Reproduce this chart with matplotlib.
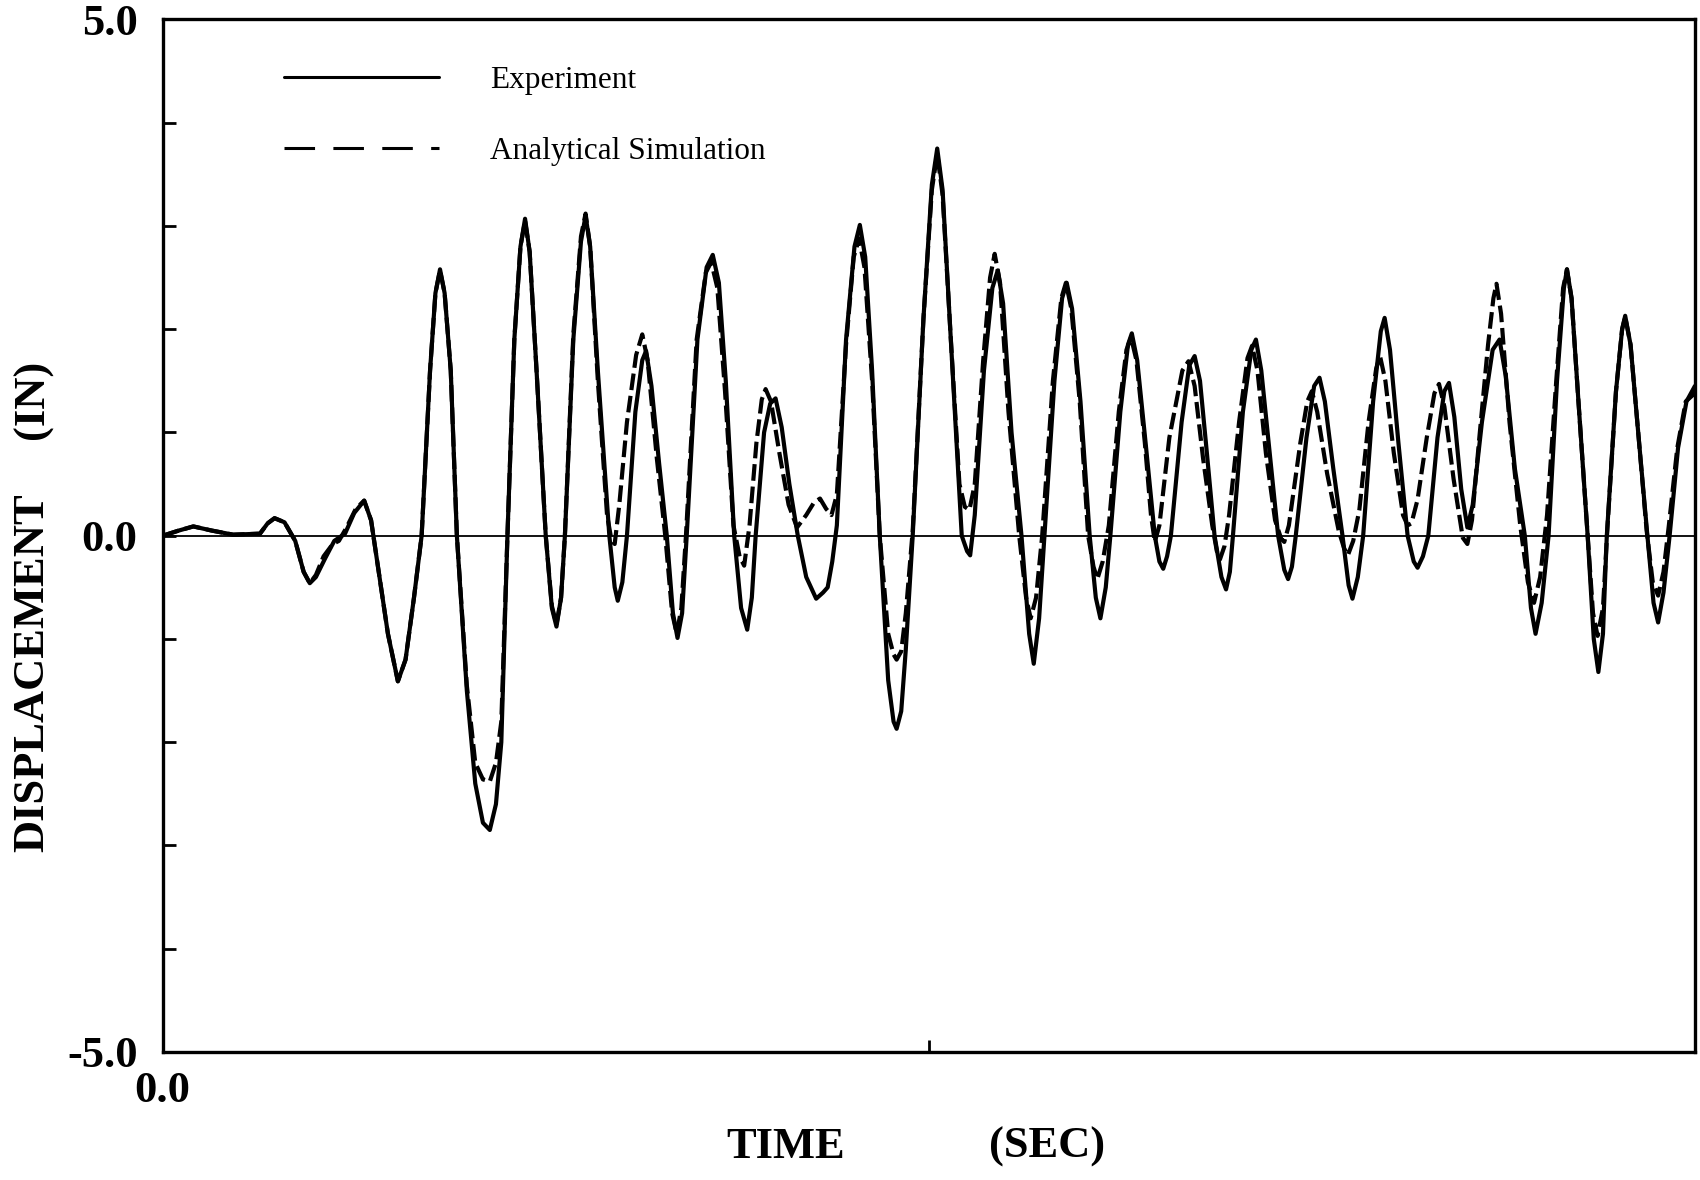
import matplotlib
matplotlib.use("Agg")
import matplotlib.pyplot as plt
import numpy as np

# Displacement history (time in sec, displacement in inches)
t_exp = [0.00, 0.21, 0.40, 0.64, 0.92, 1.27, 1.37, 1.46, 1.59, 1.73, 1.84, 1.92, 2.00, 2.12, 2.24,
         2.38, 2.50, 2.63, 2.72, 2.80, 2.94, 3.07, 3.17, 3.28, 3.38, 3.49, 3.56, 3.62, 3.68, 3.76,
         3.84, 3.97, 4.08, 4.18, 4.27, 4.35, 4.42, 4.50, 4.59, 4.67, 4.73, 4.79, 4.88, 5.00, 5.08,
         5.14, 5.20, 5.25, 5.36, 5.46, 5.52, 5.58, 5.68, 5.83, 5.90, 5.94, 6.00, 6.06, 6.17, 6.26,
         6.31, 6.38, 6.48, 6.58, 6.66, 6.72, 6.78, 6.84, 6.98, 7.10, 7.18, 7.26, 7.35, 7.46, 7.55,
         7.63, 7.69, 7.74, 7.85, 7.93, 8.00, 8.08, 8.18, 8.29, 8.40, 8.53, 8.62, 8.68, 8.74, 8.80,
         8.92, 9.03, 9.10, 9.17, 9.26, 9.36, 9.47, 9.54, 9.58, 9.64, 9.70, 9.79, 9.93, 10.04, 10.11,
         10.18, 10.28, 10.43, 10.50, 10.54, 10.60, 10.72, 10.83, 10.90, 10.97, 11.08, 11.21, 11.31,
         11.37, 11.44, 11.51, 11.64, 11.74, 11.80, 11.87, 11.98, 12.10, 12.18, 12.24, 12.31, 12.37,
         12.50, 12.60, 12.65, 12.72, 12.83, 12.95, 13.01, 13.06, 13.11, 13.16, 13.30, 13.40, 13.47,
         13.54, 13.63, 13.73, 13.82, 13.88, 13.93, 13.97, 14.10, 14.21, 14.27, 14.34, 14.45, 14.56,
         14.64, 14.69, 14.74, 14.79, 14.93, 15.03, 15.10, 15.17, 15.28, 15.40, 15.48, 15.53, 15.60,
         15.67, 15.80, 15.90, 15.95, 16.02, 16.13, 16.25, 16.33, 16.38, 16.45, 16.52, 16.64, 16.73,
         16.79, 16.86, 16.95, 17.03, 17.10, 17.22, 17.36, 17.45, 17.53, 17.65, 17.78, 17.86, 17.92,
         18.00, 18.09, 18.20, 18.29, 18.33, 18.39, 18.48, 18.60, 18.68, 18.74, 18.80, 18.85, 18.97,
         19.05, 19.09, 19.16, 19.26, 19.38, 19.46, 19.52, 19.59, 19.67, 19.78, 19.89, 20.00]
d_exp = [0.00, 0.05, 0.09, 0.05, 0.01, 0.02, 0.12, 0.17, 0.13, -0.05, -0.35, -0.46, -0.40, -0.22, -0.05,
         0.02, 0.22, 0.34, 0.15, -0.25, -0.95, -1.41, -1.20, -0.60, 0.00, 1.60, 2.35, 2.58, 2.35, 1.60,
         0.00, -1.50, -2.40, -2.78, -2.85, -2.60, -2.00, 0.00, 1.90, 2.80, 3.07, 2.75, 1.60, 0.00, -0.70,
         -0.88, -0.60, 0.00, 1.90, 2.85, 3.10, 2.80, 1.60, 0.00, -0.50, -0.63, -0.45, 0.00, 1.20, 1.70,
         1.79, 1.45, 0.70, 0.00, -0.75, -0.99, -0.75, 0.00, 1.90, 2.60, 2.72, 2.45, 1.50, 0.00, -0.70,
         -0.91, -0.60, 0.00, 1.00, 1.28, 1.33, 1.05, 0.50, 0.00, -0.40, -0.61, -0.55, -0.50, -0.25, 0.10,
         1.90, 2.80, 3.01, 2.70, 1.60, 0.00, -1.40, -1.80, -1.87, -1.70, -1.10, 0.00, 2.10, 3.40, 3.75,
         3.35, 2.00, 0.00, -0.15, -0.19, 0.20, 1.60, 2.40, 2.57, 2.25, 1.00, 0.00, -0.95,
         -1.24, -0.80, 0.00, 1.50, 2.30, 2.45, 2.20, 1.30, 0.00, -0.60, -0.80, -0.50, 0.00,
         1.20, 1.85, 1.96, 1.70, 0.90, 0.00, -0.25, -0.32, -0.20, 0.00, 1.10, 1.65, 1.74,
         1.50, 0.80, 0.00, -0.40, -0.52, -0.35, 0.00, 1.20, 1.80, 1.90, 1.60, 0.80, 0.00,
         -0.33, -0.42, -0.30, 0.00, 0.95, 1.45, 1.53, 1.30, 0.65, 0.00, -0.48, -0.61, -0.40,
         0.00, 1.30, 1.98, 2.11, 1.80, 0.90, 0.00, -0.25, -0.31, -0.20, 0.00, 0.95, 1.40,
         1.48, 1.15, 0.45, 0.08, 0.30, 1.10, 1.80, 1.90, 1.55, 0.65, 0.00, -0.70, -0.95,
         -0.65, 0.00, 1.50, 2.40, 2.58, 2.30, 1.30, 0.00, -1.00, -1.32, -0.95, 0.00, 1.40,
         2.00, 2.13, 1.85, 1.00, 0.00, -0.65, -0.84, -0.55, 0.00, 0.85, 1.30, 1.45]

t_sim = [0.00, 0.21, 0.40, 0.64, 0.92, 1.27, 1.37, 1.46, 1.59, 1.73, 1.84, 1.92, 2.00, 2.10, 2.22,
         2.30, 2.40, 2.52, 2.63, 2.72, 2.80, 2.94, 3.07, 3.17, 3.28, 3.38, 3.49, 3.56, 3.62, 3.68,
         3.76, 3.84, 3.97, 4.08, 4.18, 4.27, 4.35, 4.42, 4.50, 4.59, 4.67, 4.73, 4.79, 4.88, 5.00,
         5.08, 5.14, 5.20, 5.25, 5.36, 5.46, 5.52, 5.58, 5.68, 5.80, 5.86, 5.90, 5.96, 6.06, 6.18,
         6.26, 6.33, 6.45, 6.56, 6.65, 6.71, 6.77, 6.83, 6.97, 7.09, 7.16, 7.24, 7.34, 7.45, 7.53,
         7.59, 7.66, 7.75, 7.82, 7.87, 7.94, 8.05, 8.17, 8.28, 8.40, 8.50, 8.58, 8.66, 8.73, 8.80,
         8.92, 9.02, 9.09, 9.16, 9.26, 9.36, 9.47, 9.54, 9.58, 9.64, 9.70, 9.79, 9.93, 10.04, 10.11,
         10.18, 10.28, 10.40, 10.47, 10.53, 10.60, 10.71, 10.80, 10.86, 10.93, 11.04, 11.18, 11.27,
         11.33, 11.40, 11.48, 11.62, 11.73, 11.79, 11.86, 11.97, 12.08, 12.15, 12.20, 12.27, 12.35,
         12.48, 12.58, 12.64, 12.71, 12.82, 12.90, 12.95, 13.01, 13.14, 13.31, 13.39, 13.47, 13.58,
         13.70, 13.76, 13.80, 13.86, 13.92, 14.05, 14.16, 14.22, 14.29, 14.40, 14.52, 14.60, 14.64,
         14.70, 14.85, 14.94, 15.00, 15.07, 15.20, 15.35, 15.42, 15.47, 15.54, 15.62, 15.74, 15.84,
         15.89, 15.96, 16.07, 16.19, 16.25, 16.30, 16.38, 16.50, 16.60, 16.66, 16.73, 16.85, 16.97,
         17.03, 17.09, 17.18, 17.30, 17.37, 17.41, 17.47, 17.58, 17.72, 17.82, 17.90, 17.98, 18.07,
         18.19, 18.28, 18.33, 18.39, 18.48, 18.60, 18.67, 18.73, 18.80, 18.86, 18.97, 19.05, 19.09,
         19.16, 19.26, 19.37, 19.45, 19.52, 19.59, 19.66, 19.77, 19.88, 20.00]
d_sim = [0.00, 0.05, 0.09, 0.05, 0.01, 0.02, 0.12, 0.17, 0.13, -0.05, -0.35, -0.46, -0.38, -0.20, -0.08,
         -0.05, 0.08, 0.26, 0.34, 0.15, -0.25, -0.95, -1.41, -1.20, -0.60, 0.00, 1.60, 2.35, 2.57, 2.35,
         1.60, 0.00, -1.45, -2.20, -2.36, -2.38, -2.20, -1.80, 0.00, 1.90, 2.80, 3.05, 2.75, 1.60, 0.00,
         -0.68, -0.86, -0.60, 0.00, 1.95, 2.90, 3.12, 2.80, 1.50, 0.20, -0.05, -0.08, 0.30, 1.10, 1.75,
         1.95, 1.70, 0.75, 0.00, -0.75, -0.95, -0.70, 0.00, 1.90, 2.55, 2.65, 2.40, 1.40, 0.10, -0.20,
         -0.29, 0.10, 0.90, 1.32, 1.42, 1.30, 0.80, 0.30, 0.08, 0.20, 0.32, 0.36, 0.26, 0.20, 0.40,
         1.85, 2.70, 2.88, 2.60, 1.50, 0.00, -0.95, -1.15, -1.20, -1.12, -0.75, 0.05, 2.10, 3.35, 3.70,
         3.30, 2.00, 0.50, 0.28, 0.25, 0.50, 1.70, 2.50, 2.73, 2.45, 1.20, 0.00, -0.60,
         -0.80, -0.60, 0.00, 1.50, 2.30, 2.45, 2.20, 1.30, 0.00, -0.30, -0.42, -0.25, 0.10,
         1.20, 1.80, 1.92, 1.70, 0.90, 0.20, -0.06, 0.10, 0.95, 1.60, 1.69, 1.45, 0.75,
         0.10, -0.15, -0.23, -0.10, 0.20, 1.10, 1.72, 1.84, 1.60, 0.80, 0.15, -0.03, -0.06,
         0.10, 0.90, 1.30, 1.40, 1.20, 0.60, 0.05, -0.12, -0.19, -0.05, 0.25, 1.10, 1.62,
         1.74, 1.50, 0.80, 0.20, 0.10, 0.12, 0.35, 0.95, 1.38, 1.47, 1.25, 0.55, -0.02,
         -0.08, 0.15, 0.90, 1.85, 2.30, 2.44, 2.15, 1.10, 0.10, -0.45, -0.65, -0.40, 0.20,
         1.50, 2.40, 2.58, 2.30, 1.30, 0.00, -0.75, -0.97, -0.70, 0.10, 1.40, 2.00, 2.12,
         1.85, 1.00, 0.05, -0.45, -0.58, -0.35, 0.10, 0.85, 1.30, 1.38]

y_ticks = [-5, -4, -3, -2, -1, 0, 1, 2, 3, 4, 5]
y_labels = ["-5.0", "", "", "", "", "0.0", "", "", "", "", "5.0"]
x_ticks = [0, 10, 20]
x_labels = ["0.0", "", ""]

serif = ["Liberation Serif", "DejaVu Serif"]

fig = plt.figure(figsize=(17, 11.8), dpi=100)
ax = fig.add_axes([0.0957, 0.1085, 0.9013, 0.875])

ax.axhline(0, color="black", lw=1.3, zorder=1)
ax.plot(t_exp, d_exp, color="black", lw=3.0, solid_joinstyle="round",
        solid_capstyle="round", label="Experiment", zorder=2)
ax.plot(t_sim, d_sim, color="black", lw=3.0, dashes=(4, 1.4),
        label="Analytical Simulation", zorder=3)

ax.set_xlim(0, 20)
ax.set_ylim(-5, 5)
ax.set_xticks(x_ticks)
ax.set_xticklabels(x_labels)
ax.set_yticks(y_ticks)
ax.set_yticklabels(y_labels)
ax.tick_params(axis="both", direction="in", length=9, width=2, labelsize=32)
ax.tick_params(axis="y", pad=18)
ax.tick_params(axis="x", pad=14)
for lab in ax.get_xticklabels() + ax.get_yticklabels():
    lab.set_family(serif)
    lab.set_fontweight("bold")
for s in ax.spines.values():
    s.set_linewidth(2.4)

leg = ax.legend(loc="upper left", bbox_to_anchor=(0.079, 0.955), frameon=False,
                handlelength=4.96, handletextpad=1.63, labelspacing=1.34,
                borderpad=0, borderaxespad=0,
                prop={"family": serif, "size": 22.5})
# legend samples are drawn thinner, with long dashes
for ln in leg.get_lines():
    ln.set_linewidth(2.2)
leg.get_lines()[1].set_dashes([10, 6])

# axis titles, split like the original
lab_kw = dict(family=serif, fontweight="bold", fontsize=32)
fig.text(0.019, 0.278, "DISPLACEMENT", rotation=90, ha="center", va="bottom", **lab_kw)
fig.text(0.019, 0.628, "(IN)", rotation=90, ha="center", va="bottom", **lab_kw)
fig.text(0.462, 0.028, "TIME", ha="center", va="center", **lab_kw)
fig.text(0.616, 0.028, "(SEC)", ha="center", va="center", **lab_kw)

fig.savefig("out.png", dpi=100)
